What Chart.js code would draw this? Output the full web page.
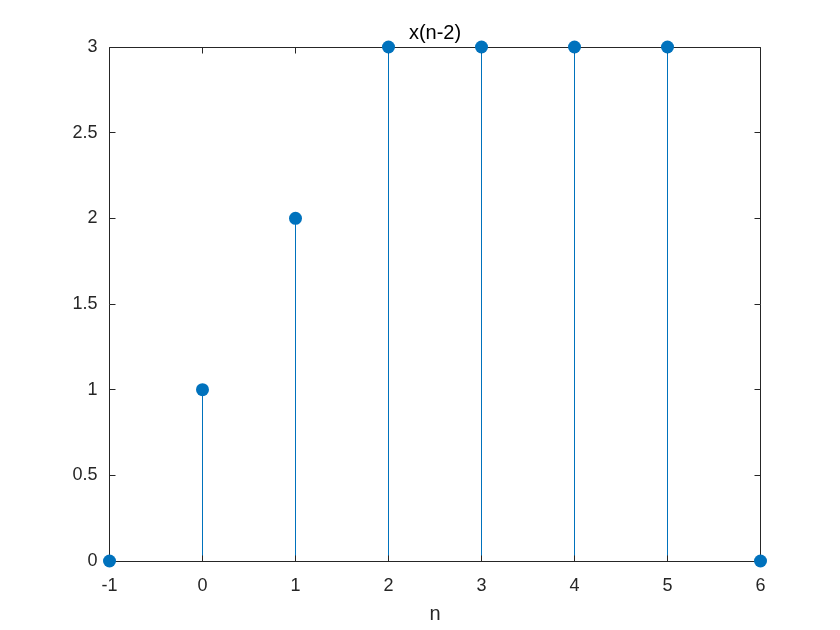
<!DOCTYPE html>
<html><head><meta charset="utf-8">
<script src="https://cdn.jsdelivr.net/npm/chart.js@4/dist/chart.umd.min.js"></script>
<style>html,body{margin:0;padding:0;background:#fff}#wrap{width:840px;height:630px}</style>
</head><body><div id="wrap"><canvas id="c" width="840" height="630"></canvas></div>
<script>
const nValues = [-1, 0, 1, 2, 3, 4, 5, 6];
const xValues = [0, 1, 2, 3, 3, 3, 3, 0];
const xTicks = [-1, 0, 1, 2, 3, 4, 5, 6];
const yTicks = [0, 0.5, 1, 1.5, 2, 2.5, 3];
const titleText = 'x(n-2)';
const xLabel = 'n';

const stemColor = '#0072BD';
const axisColor = '#262626';
const fontFamily = '"Liberation Sans", Arial, Helvetica, sans-serif';

const stemData = [];
nValues.forEach((n, i) => {
  stemData.push({x: n, y: 0});
  stemData.push({x: n, y: xValues[i]});
  stemData.push({x: n, y: null});
});
const markerData = nValues.map((n, i) => ({x: n, y: xValues[i]}));

const boxPlugin = {
  id: 'boxTicks',
  afterDatasetsDraw(chart) {
    const {ctx, chartArea: a, scales} = chart;
    const l = Math.floor(a.left) + 0.5, r = Math.floor(a.right) + 0.5;
    const t = Math.floor(a.top) + 0.5, b = Math.floor(a.bottom) + 0.5;
    ctx.save();
    ctx.strokeStyle = axisColor;
    ctx.lineWidth = 1;
    ctx.beginPath();
    ctx.rect(l, t, r - l, b - t);
    const L = 6;
    xTicks.forEach(v => {
      const px = Math.floor(scales.x.getPixelForValue(v)) + 0.5;
      ctx.moveTo(px, b); ctx.lineTo(px, b - L);
      ctx.moveTo(px, t); ctx.lineTo(px, t + L);
    });
    yTicks.forEach(v => {
      const py = Math.floor(scales.y.getPixelForValue(v)) + 0.5;
      ctx.moveTo(l, py); ctx.lineTo(l + L, py);
      ctx.moveTo(r, py); ctx.lineTo(r - L, py);
    });
    ctx.stroke();
    ctx.restore();
  },
  afterDraw(chart) {
    const {ctx, chartArea: a} = chart;
    ctx.save();
    ctx.fillStyle = stemColor;
    chart.getDatasetMeta(1).data.forEach(pt => {
      ctx.beginPath();
      ctx.arc(pt.x, pt.y, 6.5, 0, Math.PI * 2);
      ctx.fill();
    });
    ctx.fillStyle = '#000';
    ctx.font = '20px ' + fontFamily;
    ctx.textAlign = 'center';
    ctx.textBaseline = 'middle';
    ctx.fillText(titleText, (a.left + a.right) / 2, 33);
    ctx.restore();
  }
};

new Chart(document.getElementById('c'), {
  type: 'scatter',
  data: {
    datasets: [
      {data: stemData, showLine: true, spanGaps: false, borderColor: stemColor, borderWidth: 1, pointRadius: 0, clip: false},
      {data: markerData, showLine: false, pointRadius: 0, backgroundColor: stemColor, borderColor: stemColor, clip: false}
    ]
  },
  options: {
    responsive: false,
    animation: false,
    events: [],
    layout: {padding: {left: 0, right: 79.5, top: 47, bottom: 0}},
    plugins: {
      legend: {display: false},
      tooltip: {enabled: false},
      title: {display: false}
    },
    scales: {
      x: {
        type: 'linear', min: -1, max: 6,
        afterBuildTicks(s) { s.ticks = xTicks.map(v => ({value: v})); },
        afterFit(s) { s.height = 69; },
        grid: {display: false, drawTicks: false},
        border: {display: false},
        ticks: {color: axisColor, padding: 14, font: {family: fontFamily, size: 18}, maxRotation: 0, autoSkip: false,
                callback: v => String(v)},
        title: {display: true, text: xLabel, color: axisColor, font: {family: fontFamily, size: 20}, padding: {top: 0, bottom: 4}}
      },
      y: {
        type: 'linear', min: 0, max: 3,
        afterBuildTicks(s) { s.ticks = yTicks.map(v => ({value: v})); },
        afterFit(s) { s.width = 109.5; },
        grid: {display: false, drawTicks: false},
        border: {display: false},
        ticks: {color: axisColor, padding: 12, font: {family: fontFamily, size: 18}, autoSkip: false,
                callback: v => String(v)}
      }
    }
  },
  plugins: [boxPlugin]
});
</script></body></html>
